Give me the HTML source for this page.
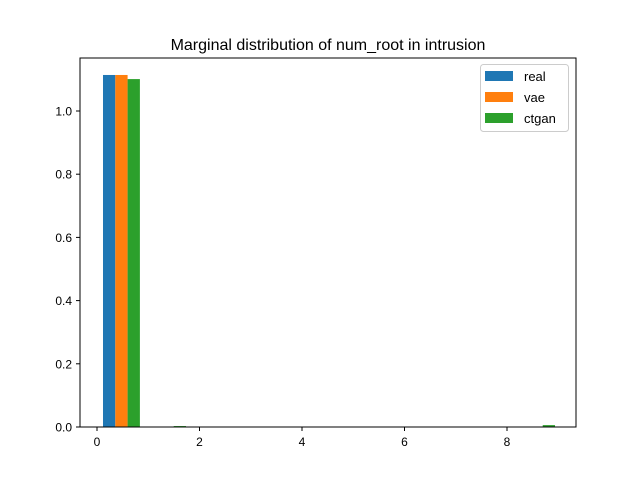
<!DOCTYPE html>
<html><head><meta charset="utf-8"><style>body{margin:0;background:#fff}svg{display:block;font-family:"Liberation Sans","DejaVu Sans",sans-serif}</style></head>
<body>
<svg id="c" width="640" height="480">
<rect width="640" height="480" fill="#fff"/>
<text x="328" y="50" font-size="16" text-anchor="middle">Marginal distribution of num_root in intrusion</text>
<g id="bars"></g>
<g id="ticks"></g>
<rect x="80" y="58" width="496" height="369" fill="none" stroke="#000" stroke-width="1"/>
<g>
<rect x="480.5" y="64.5" width="88" height="67" rx="3" fill="#fff" stroke="#ccc"/>
<rect x="485" y="71" width="28" height="10" fill="#1f77b4"/>
<text x="524" y="81" font-size="13">real</text>
<rect x="485" y="92" width="28" height="10" fill="#ff7f0e"/>
<text x="524" y="102" font-size="13">vae</text>
<rect x="485" y="113" width="28" height="10" fill="#2ca02c"/>
<text x="524" y="123" font-size="13">ctgan</text>
</g>
</svg>
<script>
const binStarts=[0,0.9,1.8,2.7,3.6,4.5,5.4,6.3,7.2,8.1];
const seriesNames=["real","vae","ctgan"];
const realVals=[1.114,0,0,0,0,0,0,0,0,0];
const vaeVals=[1.114,0,0,0,0,0,0,0,0,0];
const ctganVals=[1.101,0.003,0,0,0,0,0,0,0,0.006];
const xTicks=[0,2,4,6,8];
const yTicks=[0,0.2,0.4,0.6,0.8,1.0];
const yTickLabels=["0.0","0.2","0.4","0.6","0.8","1.0"];
const colors=["#1f77b4","#ff7f0e","#2ca02c"];
const sx=v=>97+v*51.25, sy=v=>427-v*316;
const ns="http://www.w3.org/2000/svg";
const bars=document.getElementById('bars'), ticks=document.getElementById('ticks');
[realVals,vaeVals,ctganVals].forEach((vals,s)=>{
 vals.forEach((v,i)=>{
  if(v<=0)return;
  const x0=binStarts[i]+0.117+s*0.24;
  const r=document.createElementNS(ns,'rect');
  r.setAttribute('x',sx(x0));r.setAttribute('width',sx(x0+0.24)-sx(x0));
  r.setAttribute('y',sy(v));r.setAttribute('height',Math.max(1,sy(0)-sy(v)));
  r.setAttribute('fill',colors[s]);
  
  
  bars.appendChild(r);
 });
});
xTicks.forEach(t=>{
 const l=document.createElementNS(ns,'line');
 l.setAttribute('x1',sx(t));l.setAttribute('x2',sx(t));l.setAttribute('y1',427);l.setAttribute('y2',431);l.setAttribute('stroke','#000');
 
 
 ticks.appendChild(l);
 const tx=document.createElementNS(ns,'text');
 tx.setAttribute('x',sx(t));tx.setAttribute('y',446);tx.setAttribute('font-size','12');tx.setAttribute('text-anchor','middle');tx.textContent=t;
 
 
 ticks.appendChild(tx);
});
yTicks.forEach((t,i)=>{
 const l=document.createElementNS(ns,'line');
 l.setAttribute('x1',76);l.setAttribute('x2',80);l.setAttribute('y1',sy(t));l.setAttribute('y2',sy(t));l.setAttribute('stroke','#000');
 
 
 ticks.appendChild(l);
 const tx=document.createElementNS(ns,'text');
 tx.setAttribute('x',72);tx.setAttribute('y',sy(t)+4.5);tx.setAttribute('font-size','12');tx.setAttribute('text-anchor','end');tx.textContent=yTickLabels[i];
 
 
 ticks.appendChild(tx);
});
</script>
</body></html>
